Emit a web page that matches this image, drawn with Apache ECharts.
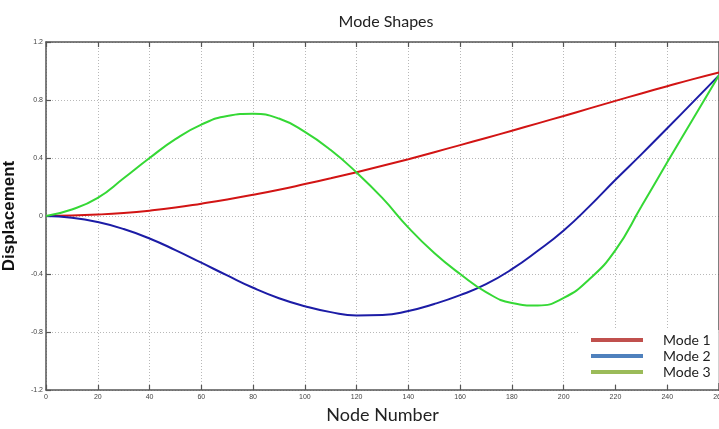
<!DOCTYPE html>
<html>
<head>
<meta charset="utf-8">
<script src="https://cdn.jsdelivr.net/npm/echarts@6/dist/echarts.min.js"></script>
<style>
  html, body { margin: 0; padding: 0; background: #fff; }
  #chart { width: 719px; height: 429px; }
</style>
</head>
<body>
<div id="chart"></div>
<script>
// Node positions along the beam
const nodes = [0, 10, 20, 30, 40, 50, 60, 70, 80, 90, 100, 110, 120, 130, 140, 150, 160, 170, 180, 190, 200, 210, 220, 230, 240, 250, 260];

// Normalised displacement of each mode at those nodes
const mode1 = [0, 0.003, 0.01, 0.021, 0.037, 0.058, 0.085, 0.114, 0.146, 0.181, 0.22, 0.26, 0.302, 0.346, 0.392, 0.44, 0.489, 0.538, 0.588, 0.639, 0.69, 0.742, 0.794, 0.845, 0.895, 0.944, 0.99];
const mode2 = [0, -0.012, -0.042, -0.09, -0.155, -0.235, -0.322, -0.41, -0.495, -0.567, -0.622, -0.663, -0.686, -0.683, -0.655, -0.607, -0.546, -0.47, -0.367, -0.24, -0.10, 0.068, 0.25, 0.425, 0.605, 0.787, 0.97];
const mode3 = [0, 0.045, 0.125, 0.26, 0.40, 0.53, 0.63, 0.69, 0.705, 0.672, 0.58, 0.455, 0.30, 0.123, -0.08, -0.255, -0.40, -0.525, -0.6, -0.617, -0.565, -0.435, -0.235, 0.065, 0.37, 0.67, 0.97];

const seriesNames = ['Mode 1', 'Mode 2', 'Mode 3'];
const lineColors = ['#d21414', '#1c1ca6', '#35d835'];
const legendColors = ['#c0504d', '#4f81bd', '#9bbb59'];

const pairs = vals => nodes.map((x, i) => [x, vals[i]]);
const modes = [mode1, mode2, mode3];

const chart = echarts.init(document.getElementById('chart'), null, { renderer: 'canvas' });

const gridLine = { show: true, lineStyle: { color: '#b8b8b8', type: [1, 2], width: 1 } };
const axisTick = { show: true, inside: true, length: 5, lineStyle: { color: '#555', width: 1.2 } };
const axisLine = { show: true, onZero: false, lineStyle: { color: '#555', width: 1.5 } };
const labelStyle = { fontFamily: 'Liberation Sans', fontSize: 7, color: '#444' };

chart.setOption({
  animation: false,
  backgroundColor: '#fff',
  title: {
    text: 'Mode Shapes',
    left: 381,
    top: 9,
    textAlign: 'center',
    textStyle: { fontFamily: 'Lato', fontSize: 16, fontWeight: 'normal', color: '#222' }
  },
  grid: { left: 46, right: 0, top: 42, bottom: 39, containLabel: false, outerBoundsMode: 'none' },
  legend: {
    orient: 'vertical',
    left: 580,
    top: 330,
    padding: [2, 8, 3, 11],
    backgroundColor: '#fff',
    icon: 'rect',
    itemWidth: 52,
    itemHeight: 4,
    itemGap: 0,
    textStyle: { fontFamily: 'Lato', fontSize: 14, color: '#222', padding: [0, 0, 0, 15], lineHeight: 16 },
    data: seriesNames.map((n, i) => ({ name: n, itemStyle: { color: legendColors[i] } }))
  },
  xAxis: [{
    type: 'value',
    min: 0,
    max: 260,
    interval: 20,
    name: 'Node Number',
    nameLocation: 'middle',
    nameGap: 14,
    nameTextStyle: { fontFamily: 'Lato', fontSize: 18, color: '#222' },
    axisLine: axisLine,
    axisTick: axisTick,
    axisLabel: Object.assign({ margin: 4, showMaxLabel: true }, labelStyle),
    splitLine: gridLine
  }, {
    type: 'value',
    position: 'top',
    min: 0,
    max: 260,
    interval: 20,
    axisLine: axisLine,
    axisTick: axisTick,
    axisLabel: { show: false },
    splitLine: { show: false }
  }],
  yAxis: [{
    type: 'value',
    min: -1.2,
    max: 1.2,
    interval: 0.4,
    name: 'Displacement',
    nameLocation: 'middle',
    nameGap: 28,
    nameTextStyle: { fontFamily: 'Liberation Sans', fontSize: 17, fontWeight: 'bold', color: '#111' },
    axisLine: axisLine,
    axisTick: axisTick,
    axisLabel: Object.assign({ margin: 3, formatter: v => String(Math.round(v * 10) / 10) }, labelStyle),
    splitLine: gridLine
  }, {
    type: 'value',
    position: 'right',
    min: -1.2,
    max: 1.2,
    interval: 0.4,
    axisLine: axisLine,
    axisTick: { show: false },
    axisLabel: { show: false },
    splitLine: { show: false }
  }],
  series: seriesNames.map((n, i) => ({
    name: n,
    type: 'line',
    smooth: 0.5,
    showSymbol: false,
    symbol: 'none',
    data: pairs(modes[i]),
    lineStyle: { color: lineColors[i], width: 2 },
    itemStyle: { color: lineColors[i] },
    z: 3 + i
  }))
});
</script>
</body>
</html>
